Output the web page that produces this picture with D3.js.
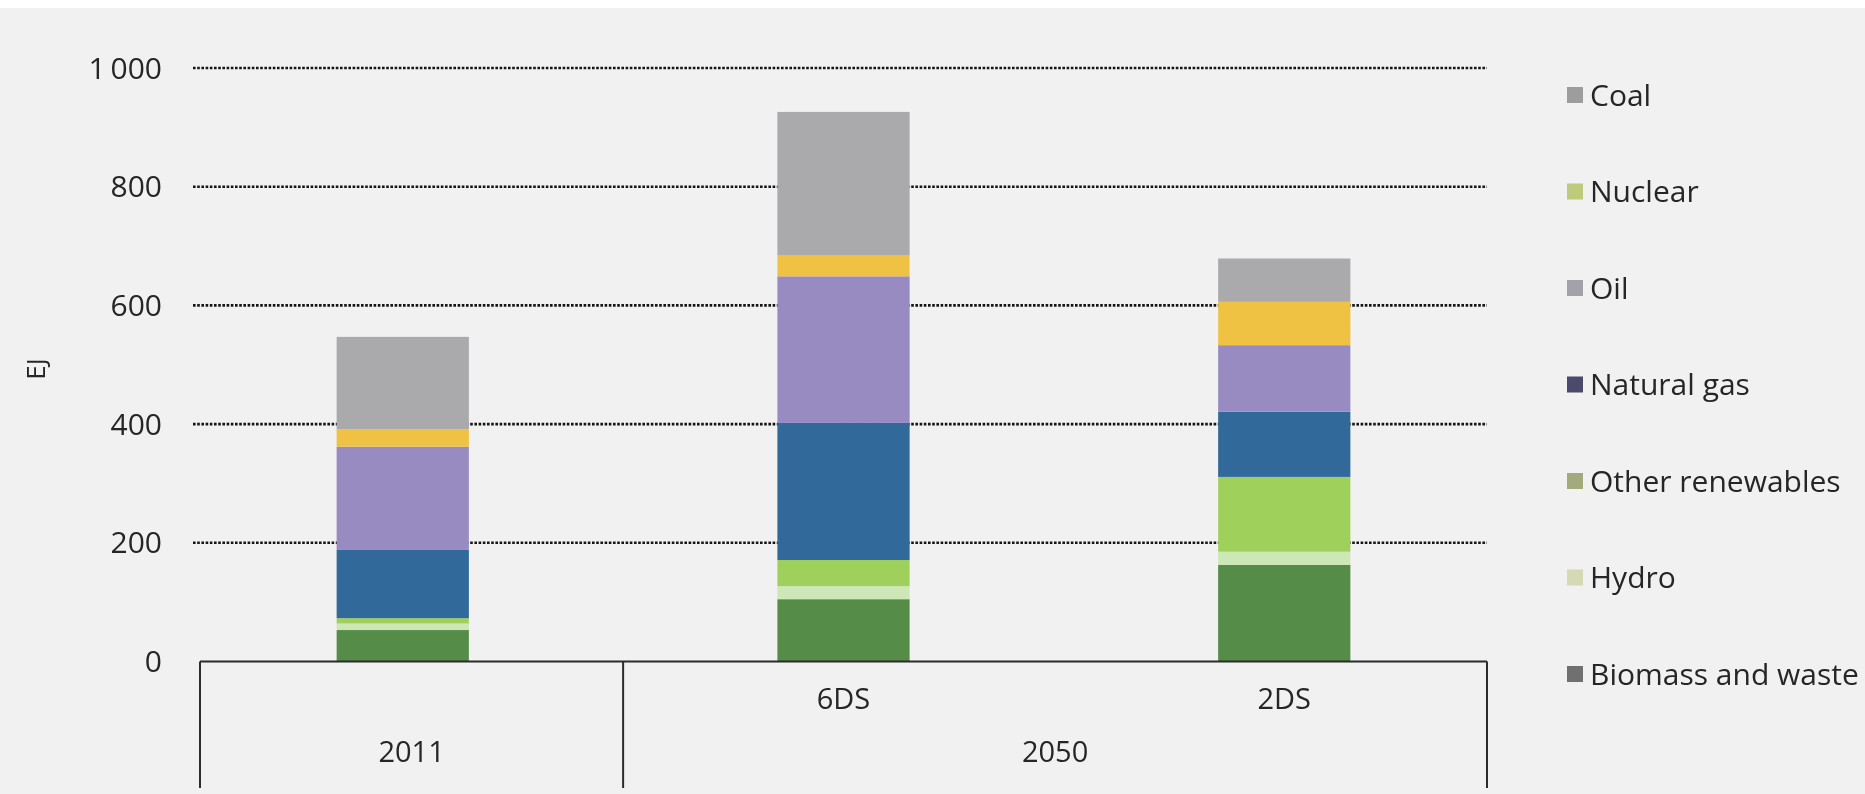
<!DOCTYPE html>
<html>
<head>
<meta charset="utf-8">
<script src="https://cdn.jsdelivr.net/npm/d3@7"></script>
<style>
  html, body { margin: 0; padding: 0; background: #f1f1f1; }
  svg { display: block; filter: blur(0.5px); }
  text { font-family: "Open Sans", Lato, sans-serif; fill: #262626; }
</style>
</head>
<body>
<svg id="chart" width="1865" height="794"></svg>
<script>
// categories along the x axis (one bar each) and their two label levels
const categories = ["2011", "6DS", "2DS"];
const scenarioLabels = ["", "6DS", "2DS"];
const yearGroups = ["2011", "2050"];
const yearOfCategory = ["2011", "2050", "2050"];

// stacking order, bottom to top
const fuels = ["Biomass and waste", "Hydro", "Other renewables", "Natural gas", "Oil", "Nuclear", "Coal"];

// EJ per category: 2011, 2050 6DS, 2050 2DS
const biomass = [53, 105, 163];
const hydro = [11, 22, 22];
const otherRenewables = [9, 44, 126];
const naturalGas = [115, 231, 110];
const oil = [174, 247, 112];
const nuclear = [29, 35, 73];
const coal = [156, 242, 73];

const yTicks = [0, 200, 400, 600, 800, 1000];
const legendOrder = ["Coal", "Nuclear", "Oil", "Natural gas", "Other renewables", "Hydro", "Biomass and waste"];

let barColor = d3.scaleOrdinal()
    .domain(fuels)
    .range(["#548c48", "#cde8b6", "#9fd05c", "#31699a", "#978bc2", "#f0c244", "#aaaaac"]);

// the legend swatches in the source come out in muddier tones than the bars
let swatchColor = d3.scaleOrdinal()
    .domain(legendOrder)
    .range(["#9d9d9d", "#bccb7c", "#a2a2ab", "#4b4a6c", "#a3ab7c", "#d5dab4", "#707070"]);

let seriesByFuel = {
    "Biomass and waste": biomass,
    "Hydro": hydro,
    "Other renewables": otherRenewables,
    "Natural gas": naturalGas,
    "Oil": oil,
    "Nuclear": nuclear,
    "Coal": coal
};

let table = categories.map((c, i) => {
    let row = { category: c };
    fuels.forEach(f => row[f] = seriesByFuel[f][i]);
    return row;
});

let svg = d3.select('#chart');
let plotLeft = 200, plotRight = 1487, plotTop = 68, plotBottom = 661.5;

svg.append('rect')
    .attr('width', 1865).attr('height', 8)
    .attr('fill', '#ffffff');

let x = d3.scaleBand()
    .domain(categories)
    .range([plotLeft, plotRight])
    .paddingInner(0.7)
    .paddingOuter(0.31);

let y = d3.scaleLinear()
    .domain([0, 1000])
    .range([plotBottom, plotTop]);

// dotted gridlines
svg.append('g')
    .selectAll('line')
    .data(yTicks.filter(t => t > 0))
    .enter()
    .append('line')
    .attr('x1', plotLeft - 7)
    .attr('x2', plotRight)
    .attr('y1', d => y(d))
    .attr('y2', d => y(d))
    .attr('stroke', '#151515')
    .attr('stroke-width', 2.6)
    .attr('stroke-dasharray', '2.6,1.6');

// y tick labels
svg.append('g')
    .selectAll('text')
    .data(yTicks)
    .enter()
    .append('text')
    .attr('x', 162)
    .attr('y', d => y(d))
    .attr('dy', '0.35em')
    .attr('text-anchor', 'end')
    .style('font-size', '30px')
    .text(d => d3.format(',')(d).replace(',', '\u2009'));

svg.append('text')
    .attr('transform', 'translate(36,369) rotate(-90)')
    .attr('text-anchor', 'middle')
    .attr('dy', '0.35em')
    .style('font-size', '26px')
    .text('EJ');

// stacked bars
let stacked = d3.stack().keys(fuels)(table);

svg.append('g')
    .selectAll('g')
    .data(stacked)
    .enter()
    .append('g')
    .attr('fill', d => barColor(d.key))
    .selectAll('rect')
    .data(d => d)
    .enter()
    .append('rect')
    .attr('x', d => x(d.data.category))
    .attr('width', x.bandwidth())
    .attr('y', d => y(d[1]))
    .attr('height', d => y(d[0]) - y(d[1]));

// category axis: baseline plus the two-level box
let halfGap = x.step() * x.paddingInner() / 2;

svg.append('line')
    .attr('x1', plotLeft).attr('x2', plotRight)
    .attr('y1', y(0)).attr('y2', y(0))
    .attr('stroke', '#2b2b2b')
    .attr('stroke-width', 2.2);

let separators = [plotLeft];
yearGroups.forEach(g => {
    let members = categories.filter((c, i) => yearOfCategory[i] === g);
    let last = members[members.length - 1];
    separators.push(last === categories[categories.length - 1] ? plotRight : x(last) + x.bandwidth() + halfGap);
});

svg.append('g')
    .selectAll('line')
    .data(separators)
    .enter()
    .append('line')
    .attr('x1', d => d).attr('x2', d => d)
    .attr('y1', y(0)).attr('y2', 788)
    .attr('stroke', '#2b2b2b')
    .attr('stroke-width', 2);

svg.append('g')
    .selectAll('text')
    .data(categories)
    .enter()
    .append('text')
    .attr('x', d => x(d) + x.bandwidth() / 2)
    .attr('y', 699)
    .attr('dy', '0.35em')
    .attr('text-anchor', 'middle')
    .style('font-size', '29px')
    .text((d, i) => scenarioLabels[i]);

svg.append('g')
    .selectAll('text')
    .data(yearGroups)
    .enter()
    .append('text')
    .attr('x', (d, i) => (separators[i] + separators[i + 1]) / 2)
    .attr('y', 752)
    .attr('dy', '0.35em')
    .attr('text-anchor', 'middle')
    .style('font-size', '29px')
    .text(d => d);

// legend
let ly = d3.scalePoint()
    .domain(legendOrder)
    .range([95, 674]);

let legend = svg.append('g')
    .selectAll('g')
    .data(legendOrder)
    .enter()
    .append('g')
    .attr('transform', d => `translate(1567, ${ly(d)})`);

legend.append('rect')
    .attr('x', 0)
    .attr('y', -8)
    .attr('width', 16)
    .attr('height', 16)
    .attr('fill', d => swatchColor(d));

legend.append('text')
    .attr('x', 23)
    .attr('dy', '0.35em')
    .style('font-size', '30px')
    .text(d => d);
</script>
</body>
</html>
